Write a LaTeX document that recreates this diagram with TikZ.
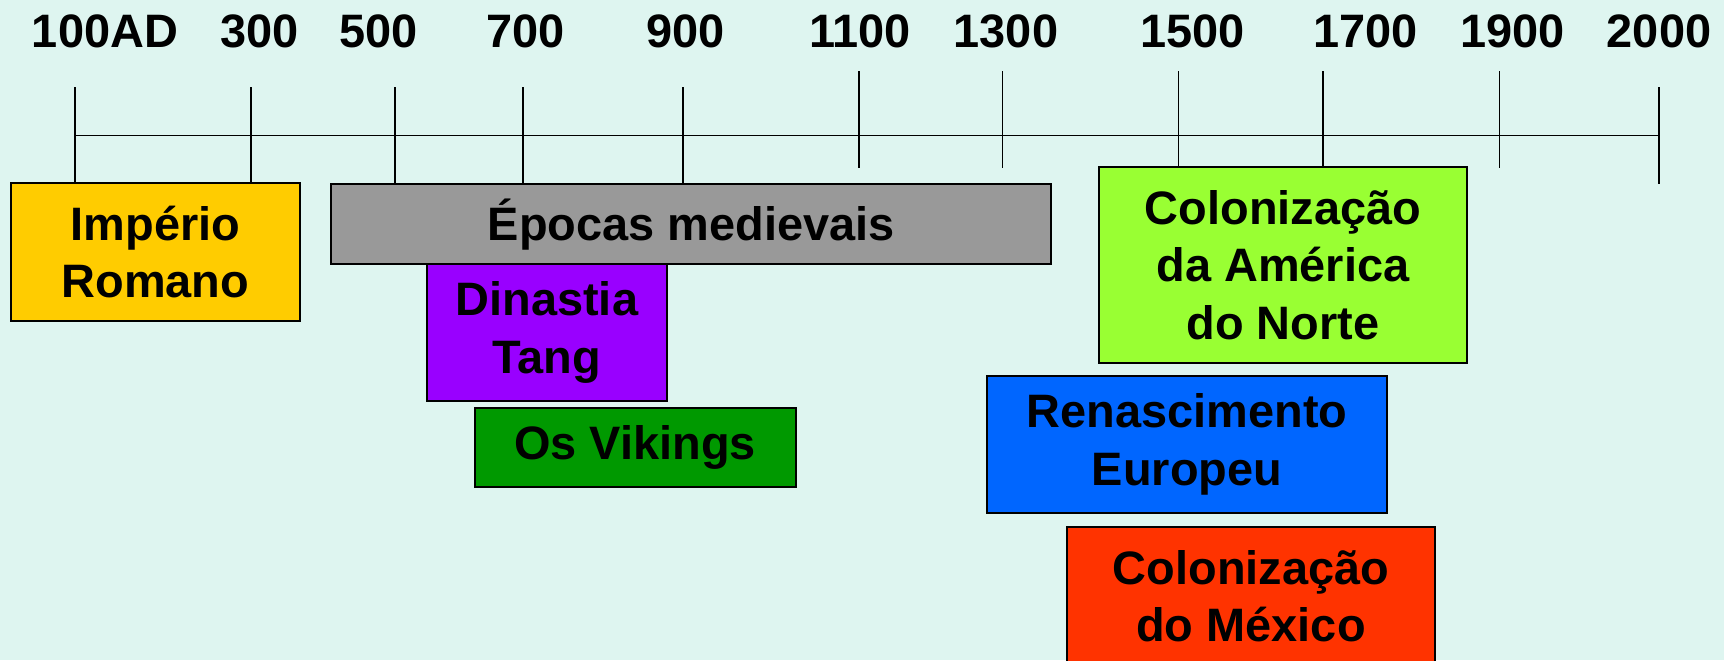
\documentclass[tikz,border=0pt]{standalone}
\usepackage{fontspec}
\setmainfont{Liberation Sans}
\definecolor{bgmint}{RGB}{222,245,240}
\definecolor{romano}{RGB}{255,204,0}
\definecolor{medieval}{RGB}{153,153,153}
\definecolor{tang}{RGB}{153,0,255}
\definecolor{vikings}{RGB}{0,153,0}
\definecolor{america}{RGB}{153,255,51}
\definecolor{renasc}{RGB}{0,102,255}
\definecolor{mexico}{RGB}{255,51,0}

\begin{document}
\begin{tikzpicture}[x=0.02cm, y=-0.02cm,
  year/.style={anchor=base, inner sep=0pt, font=\fontsize{26.7}{32}\selectfont\bfseries},
  period/.style={draw=black, line width=1.1pt, align=center, inner sep=0pt,
    font=\fontsize{26.7}{32.7}\selectfont\bfseries},
  yeartick/.style={line width=0.8pt}]
\useasboundingbox (0,0) rectangle (1724,660);
\fill[bgmint] (0,0) rectangle (1724,660);
\clip (0,0) rectangle (1724,660);

% years
\node[year] (y100) at (105,47.7) {100AD};
\foreach \x/\yr in {259.7/300, 378.5/500, 525.7/700, 685.3/900, 860/1100,
  1006/1300, 1192.8/1500, 1365.6/1700, 1512.4/1900, 1659/2000}
  \node[year] (y\yr) at (\x,47.7) {\yr};

% axis
\coordinate (axisL) at (74.9,135.7);
\coordinate (axisR) at (1659,135.7);
\draw[yeartick] (axisL) -- (axisR);
\foreach \x in {74.9, 250.8, 395.1, 522.8, 683.1, 1659}
  \draw[yeartick] (\x,87.3) -- (\x,183.5); % long
\foreach \x in {859, 1002.7, 1178.5, 1322.9, 1499.2}
  \draw[yeartick] (\x,71) -- (\x,168.3); % short

% periods
\node[period, fill=romano, minimum width=5.77cm, minimum height=2.754cm]
  (romano) at (155.4,252.2) {Império\\Romano};
\node[period, fill=medieval, minimum width=14.40cm, minimum height=1.594cm]
  (medieval) at (691.25,224.15) {Épocas medievais};
\node[period, fill=tang, minimum width=4.806cm, minimum height=2.734cm]
  (tang) at (546.85,332.35) {Dinastia\\Tang};
\node[period, fill=vikings, minimum width=6.426cm, minimum height=1.592cm]
  (vikings) at (635.15,447.5) {Os Vikings};
\node[period, fill=america, minimum width=7.372cm, minimum height=3.908cm]
  (america) at (1282.9,265) {Colonização\\da América\\do Norte};
\node[period, fill=renasc, minimum width=8.012cm, minimum height=2.746cm]
  (renasc) at (1187,444.35) {Renascimento\\Europeu};
\node[period, fill=mexico, minimum width=7.374cm, minimum height=2.75cm]
  (mexico) at (1251,596) {Colonização\\do México};
\end{tikzpicture}
\end{document}
